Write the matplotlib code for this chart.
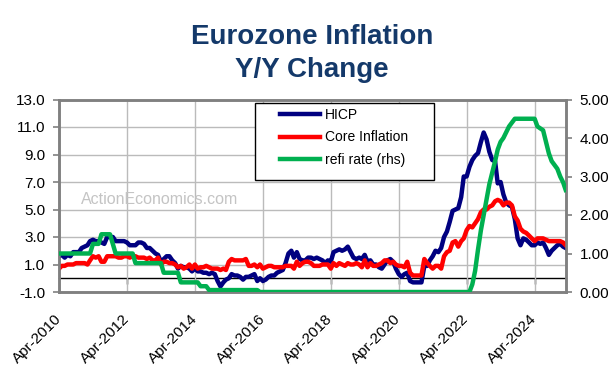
import matplotlib
matplotlib.use("Agg")
import matplotlib.pyplot as plt
import matplotlib.patches as mpatches
import pandas as pd
import numpy as np

plt.rcParams['font.family'] = ['Liberation Sans', 'DejaVu Sans']

# ---------------- data (monthly, Apr-2010 .. Mar-2025) ----------------
start_month = "2010-04-01"
hicp = [1.6, 1.7, 1.5, 1.7, 1.6, 1.9, 1.9, 1.9, 2.2,
        2.3, 2.4, 2.7, 2.8, 2.7, 2.7, 2.6, 2.5, 3.0, 3.0, 3.0, 2.7,
        2.7, 2.7, 2.7, 2.6, 2.4, 2.4, 2.4, 2.6, 2.6, 2.5, 2.2, 2.2,
        2.0, 1.8, 1.7, 1.2, 1.4, 1.6, 1.6, 1.3, 1.1, 0.7, 0.9, 0.8,
        0.8, 0.7, 0.5, 0.7, 0.5, 0.5, 0.4, 0.4, 0.3, 0.4, 0.3, -0.2,
        -0.6, -0.3, -0.1, 0.0, 0.3, 0.2, 0.2, 0.1, -0.1, 0.1, 0.1, 0.2,
        0.3, -0.2, 0.0, -0.2, -0.1, 0.1, 0.2, 0.2, 0.4, 0.5, 0.6, 1.1,
        1.8, 2.0, 1.5, 1.9, 1.4, 1.3, 1.3, 1.5, 1.5, 1.4, 1.5, 1.4,
        1.3, 1.1, 1.3, 1.2, 1.9, 2.0, 2.1, 2.0, 2.1, 2.3, 1.9, 1.5,
        1.4, 1.5, 1.4, 1.7, 1.2, 1.3, 1.0, 1.0, 0.8, 0.7, 1.0, 1.3,
        1.4, 1.2, 0.7, 0.3, 0.1, 0.3, 0.4, -0.2, -0.3, -0.3, -0.3, -0.3,
        0.9, 0.9, 1.3, 1.6, 2.0, 1.9, 2.2, 3.0, 3.4, 4.1, 4.9, 5.0,
        5.1, 5.9, 7.4, 7.4, 8.1, 8.6, 8.9, 9.1, 9.9, 10.6, 10.1, 9.2,
        8.6, 8.5, 6.9, 7.0, 6.1, 5.5, 5.3, 5.2, 4.3, 2.9, 2.4, 2.9,
        2.8, 2.6, 2.4, 2.4, 2.6, 2.5, 2.6, 2.2, 1.7, 2.0, 2.2, 2.4,
        2.5, 2.3, 2.2]

core = [0.7, 0.9, 0.9, 1.0, 1.0, 1.0, 1.1, 1.1, 1.1,
        1.1, 1.0, 1.3, 1.6, 1.5, 1.6, 1.2, 1.2, 1.6, 1.6, 1.6, 1.6,
        1.5, 1.5, 1.6, 1.6, 1.5, 1.6, 1.6, 1.5, 1.5, 1.5, 1.4, 1.5,
        1.3, 1.3, 1.5, 1.0, 1.2, 1.2, 1.1, 1.1, 1.0, 0.8, 0.9, 0.7,
        0.8, 1.0, 0.7, 1.0, 0.7, 0.8, 0.8, 0.9, 0.8, 0.7, 0.7, 0.7,
        0.6, 0.7, 0.6, 1.2, 1.4, 1.3, 1.3, 1.3, 1.3, 1.4, 0.9, 0.9,
        1.0, 0.8, 1.0, 0.7, 0.8, 0.9, 0.9, 0.8, 0.8, 0.8, 0.8, 0.9,
        0.9, 0.9, 0.7, 1.2, 0.9, 1.1, 1.2, 1.2, 1.1, 0.9, 0.9, 0.9,
        1.0, 1.0, 1.0, 0.7, 1.1, 0.9, 1.1, 1.0, 0.9, 1.1, 1.0, 1.0,
        1.1, 1.0, 0.8, 1.3, 0.8, 1.1, 0.9, 0.9, 1.0, 1.1, 1.3, 1.3,
        1.1, 1.2, 1.0, 0.9, 0.9, 0.8, 1.2, 0.4, 0.2, 0.2, 0.2, 0.2,
        1.4, 1.1, 0.9, 0.7, 0.9, 0.9, 0.7, 1.6, 1.9, 2.0, 2.6, 2.7,
        2.3, 2.7, 2.9, 3.5, 3.8, 3.7, 4.0, 4.3, 4.8, 5.0, 5.0, 5.2,
        5.3, 5.6, 5.7, 5.6, 5.3, 5.5, 5.5, 5.3, 4.5, 4.2, 3.6, 3.4,
        3.3, 3.1, 2.9, 2.7, 2.9, 2.9, 2.9, 2.8, 2.7, 2.7, 2.7, 2.7,
        2.7, 2.6, 2.4]

refi = ([1.00] * 12 + [1.25] * 3 + [1.50] * 4 + [1.25] + [1.00] * 7 +
        [0.75] * 10 + [0.50] * 6 + [0.25] * 7 + [0.15] * 3 + [0.05] * 18 +
        [0.00] * 75 +
        [0.20, 0.55, 1.10, 1.60, 2.00, 2.40, 2.80, 3.10, 3.40, 3.70, 3.90,
         4.00, 4.15, 4.30, 4.40] + [4.50] * 8 +
        [4.30, 4.25, 4.20, 3.90, 3.60, 3.40, 3.30, 3.20, 3.00, 2.85, 2.65])

series_names = ["HICP", "Core Inflation", "refi rate (rhs)"]
tick_labels = ["Apr-2010", "Apr-2012", "Apr-2014", "Apr-2016",
               "Apr-2018", "Apr-2020", "Apr-2022", "Apr-2024"]
left_ticks = [-1.0, 1.0, 3.0, 5.0, 7.0, 9.0, 11.0, 13.0]
right_ticks = [0.0, 1.0, 2.0, 3.0, 4.0, 5.0]
title_lines = ["Eurozone Inflation", "Y/Y Change"]
watermark = "ActionEconomics.com"

dates = pd.date_range(start_month, periods=len(hicp), freq="MS")
tick_pos = pd.to_datetime(tick_labels, format="%b-%Y")

# ---------------- figure ----------------
W, H = 612, 365
fig = plt.figure(figsize=(W / 100, H / 100), dpi=100)
L, R, T, B = 59, 565.7, 99.5, 292
ax = fig.add_axes([L / W, 1 - B / H, (R - L) / W, (B - T) / H])
ax2 = ax.twinx()

c_hicp, c_core, c_refi = "#000080", "#FF0000", "#00B050"
lw = 3.2
ax.plot(dates, hicp, color=c_hicp, lw=lw, solid_joinstyle="round", zorder=3)
ax.plot(dates, core, color=c_core, lw=lw, solid_joinstyle="round", zorder=4)
ax2.plot(dates, refi, color=c_refi, lw=lw, solid_joinstyle="round", zorder=3)

ax.set_xlim(dates[0], dates[-1])
ax.set_ylim(left_ticks[0], left_ticks[-1])
ax2.set_ylim(right_ticks[0], right_ticks[-1])

grid_c = "#BBBBBB"
spine_c = "#808080"
ax.set_yticks(left_ticks)
ax.set_yticklabels([f"{v:.1f}" for v in left_ticks])
ax2.set_yticks(right_ticks)
ax2.set_yticklabels([f"{v:.2f}" for v in right_ticks])
ax.set_xticks(tick_pos)
ax.set_xticklabels(tick_labels, rotation=45, ha="right", va="center",
                   rotation_mode="anchor")
ax.grid(True, color=grid_c, lw=1.0, zorder=0)
ax.set_axisbelow(True)

ax.tick_params(axis="x", length=0, pad=18, labelsize=11)
ax.tick_params(axis="y", direction="out", length=4, width=1.2,
               color=spine_c, pad=6, labelsize=11)
ax2.tick_params(axis="y", direction="out", length=4, width=1.2,
                color=spine_c, pad=6, labelsize=11)
for a in (ax, ax2):
    for s in a.spines.values():
        s.set_color(spine_c)
        s.set_linewidth(1.8)

# zero line with its own tick marks (category axis crossing at 0)
loc0 = (0 - left_ticks[0]) / (left_ticks[-1] - left_ticks[0])
sec = ax.secondary_xaxis(loc0)
sec.set_xticks(tick_pos[1:])
sec.set_xticklabels([])
sec.spines["bottom"].set_color("black")
sec.spines["bottom"].set_linewidth(1.0)
sec.tick_params(axis="x", direction="out", length=4, width=1.0, color="black")

# watermark
ax.text(0.199, 0.478, watermark, transform=ax.transAxes, fontsize=11.5,
        color="#C4C4C4", ha="center", va="center", zorder=1)

# legend box
x0 = (255 - L) / (R - L)
x1 = (434 - L) / (R - L)
y1 = (B - 103) / (B - T)
y0 = (B - 180) / (B - T)
rect = mpatches.Rectangle((x0, y0), x1 - x0, y1 - y0, transform=ax2.transAxes,
                          facecolor="white", edgecolor="black", lw=1.0,
                          zorder=5)
ax2.add_patch(rect)
handles = [plt.Line2D([], [], color=c, lw=lw) for c in (c_hicp, c_core, c_refi)]
leg = ax2.legend(handles, series_names, loc="upper left",
                 bbox_to_anchor=((282 - L) / (R - L) - 0.012, y1 - 0.005),
                 frameon=False, fontsize=10, handlelength=2.9,
                 handletextpad=0.3, labelspacing=0.6, borderpad=0.3,
                 borderaxespad=0)
leg.set_zorder(6)

# title
title_c = "#14396A"
fig.text(312 / W, 1 - 37 / H, title_lines[0], ha="center", va="center",
         fontsize=20, fontweight="bold", color=title_c)
fig.text(312 / W, 1 - 70 / H, title_lines[1], ha="center", va="center",
         fontsize=20, fontweight="bold", color=title_c)

fig.savefig("out.png", dpi=100)
